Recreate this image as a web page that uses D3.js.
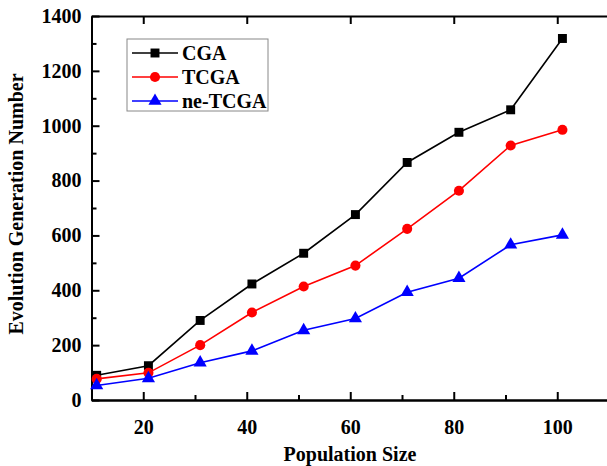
<!DOCTYPE html>
<html>
<head>
<meta charset="utf-8">
<script src="https://cdn.jsdelivr.net/npm/d3@7"></script>
<style>
    body { margin: 0; background: #fff; }
    svg { display: block; }
    text { font-family: "Liberation Serif", "Times New Roman", serif; font-weight: bold; }
    .tick text { font-size: 20px; fill: #000; }
    .axis-label { font-size: 20px; text-anchor: middle; }
    .legend-text { font-size: 20px; }
</style>
</head>
<body>
<svg id="chart" width="607" height="466"></svg>
<script>
// DATA
const popSize = [11, 21, 31, 41, 51, 61, 71, 81, 91, 101];
const cga = [90, 125, 290, 423, 535, 676, 866, 976, 1058, 1318];
const tcga = [77, 99, 200, 319, 414, 490, 624, 763, 928, 985];
const neTcga = [53, 79, 136, 179, 254, 297, 393, 444, 566, 602];
const xTicks = [20, 40, 60, 80, 100];
const xMinorTicks = [30, 50, 70, 90];
const yTicks = [0, 200, 400, 600, 800, 1000, 1200, 1400];
const yMinorTicks = [100, 300, 500, 700, 900, 1100, 1300];

const series = [
    { name: "CGA", values: cga, color: "#000000", shape: d3.symbolSquare },
    { name: "TCGA", values: tcga, color: "#ff0000", shape: d3.symbolCircle },
    { name: "ne-TCGA", values: neTcga, color: "#0000ff", shape: d3.symbolTriangle }
];

// SETUP
const plotLeft = 91.5, plotRight = 609, plotTop = 16, plotBottom = 400;
const svg = d3.select("#chart");

const x = d3.scaleLinear().domain([10, 110]).range([plotLeft, plotRight]);
const y = d3.scaleLinear().domain([0, 1400]).range([plotBottom, plotTop]);

// AXES (ticks point inward)
const axisStyle = g => {
    g.select(".domain").attr("stroke-width", 2).attr("stroke", "#000");
    g.selectAll(".tick line").attr("stroke-width", 2).attr("stroke", "#000");
};

// bottom
svg.append("g")
    .attr("transform", `translate(0,${plotBottom})`)
    .call(d3.axisBottom(x).tickValues(xTicks).tickSize(-8).tickPadding(20)
        .tickFormat(d3.format("d")).tickSizeOuter(0))
    .call(axisStyle);
svg.append("g")
    .attr("transform", `translate(0,${plotBottom})`)
    .call(d3.axisBottom(x).tickValues(xMinorTicks).tickSize(-5).tickFormat("").tickSizeOuter(0))
    .call(axisStyle);

// top (mirror)
svg.append("g")
    .attr("transform", `translate(0,${plotTop})`)
    .call(d3.axisTop(x).tickValues(xTicks).tickSize(-8).tickFormat("").tickSizeOuter(0))
    .call(axisStyle);

// left
svg.append("g")
    .attr("transform", `translate(${plotLeft},0)`)
    .call(d3.axisLeft(y).tickValues(yTicks).tickSize(-8).tickPadding(10)
        .tickFormat(d3.format("d")).tickSizeOuter(0))
    .call(axisStyle);
svg.append("g")
    .attr("transform", `translate(${plotLeft},0)`)
    .call(d3.axisLeft(y).tickValues(yMinorTicks).tickSize(-5).tickFormat("").tickSizeOuter(0))
    .call(axisStyle);

// LINES + MARKERS
const line = d3.line()
    .x((d, i) => x(popSize[i]))
    .y(d => y(d));

series.forEach(s => {
    svg.append("path")
        .datum(s.values)
        .attr("d", line)
        .attr("fill", "none")
        .attr("stroke", s.color)
        .attr("stroke-width", 1.6);

    svg.selectAll(null)
        .data(s.values)
        .enter()
        .append("path")
        .attr("transform", (d, i) => `translate(${x(popSize[i])},${y(d)})`)
        .attr("d", d3.symbol().type(s.shape).size(s.shape === d3.symbolTriangle ? 75 : 80))
        .attr("fill", s.color);
});

// LEGEND
const legend = svg.append("g");
legend.append("rect")
    .attr("x", 127)
    .attr("y", 39)
    .attr("width", 141)
    .attr("height", 72)
    .attr("fill", "#fff")
    .attr("stroke", "#888")
    .attr("stroke-width", 1);

series.forEach((s, i) => {
    const ly = 53 + i * 24;
    legend.append("line")
        .attr("x1", 132).attr("x2", 178)
        .attr("y1", ly).attr("y2", ly)
        .attr("stroke", s.color)
        .attr("stroke-width", 1.6);
    legend.append("path")
        .attr("transform", `translate(155,${ly})`)
        .attr("d", d3.symbol().type(s.shape).size(s.shape === d3.symbolTriangle ? 75 : 80))
        .attr("fill", s.color);
    legend.append("text")
        .attr("class", "legend-text")
        .attr("x", 182)
        .attr("y", ly)
        .attr("dy", "0.35em")
        .text(s.name);
});

// AXIS LABELS
svg.append("text")
    .attr("class", "axis-label")
    .attr("x", 350)
    .attr("y", 461)
    .text("Population Size");

svg.append("text")
    .attr("class", "axis-label")
    .attr("transform", "rotate(-90)")
    .attr("x", -204)
    .attr("y", 23)
    .text("Evolution Generation Number");
</script>
</body>
</html>
